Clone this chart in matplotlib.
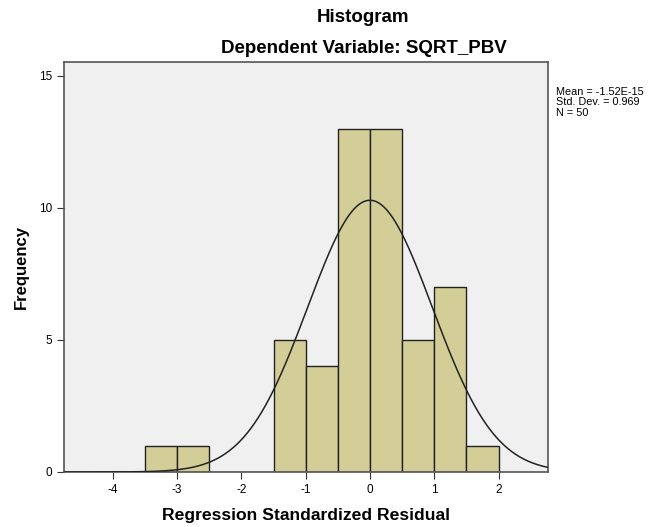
import numpy as np
import matplotlib.pyplot as plt

plt.rcParams["font.family"] = ["Liberation Sans", "DejaVu Sans"]
plt.rcParams["axes.unicode_minus"] = False

bin_edges = [-3.5, -3.0, -2.5, -2.0, -1.5, -1.0, -0.5, 0.0, 0.5, 1.0, 1.5, 2.0]
counts = [1, 1, 0, 0, 5, 4, 13, 13, 5, 7, 1]
mean = -1.52e-15
std = 0.969
n = 50
x_ticks = [-4, -3, -2, -1, 0, 1, 2]
y_ticks = [0, 5, 10, 15]

fig = plt.figure(figsize=(6.56, 5.27), dpi=100)
ax = fig.add_axes([0.0976, 0.1044, 0.7378, 0.778])
ax.set_facecolor("#f0f0f0")

lefts = np.array(bin_edges[:-1])
widths = np.diff(bin_edges)
ax.bar(lefts, counts, width=widths, align="edge", color="#d3ce98",
       edgecolor="#222222", linewidth=1.0, zorder=2)

xs = np.linspace(-4.76, 2.77, 400)
bw = widths[0]
ys = n * bw / (std * np.sqrt(2 * np.pi)) * np.exp(-0.5 * ((xs - mean) / std) ** 2)
ax.plot(xs, ys, color="#222222", linewidth=1.1, zorder=3)

ax.set_xlim(-4.76, 2.77)
ax.set_ylim(0, 15.53)
ax.set_xticks(x_ticks)
ax.set_yticks(y_ticks)
ax.tick_params(labelsize=8.5, length=5, color="#333333")
for s in ax.spines.values():
    s.set_color("#555555")
    s.set_linewidth(1.2)

ax.set_xlabel("Regression Standardized Residual", fontsize=12.6,
              fontweight="bold", labelpad=9)
ax.set_ylabel("Frequency", fontsize=12, fontweight="bold", labelpad=7)

fig.text(0.554, 0.967, "Histogram", ha="center", va="center",
         fontsize=13.5, fontweight="bold")
fig.text(0.554, 0.908, "Dependent Variable: SQRT_PBV", ha="center",
         va="center", fontsize=13.5, fontweight="bold")
fig.text(0.847, 0.835, "Mean = -1.52E-15\nStd. Dev. = 0.969\nN = 50",
         ha="left", va="top", fontsize=7.8, linespacing=1.05)

fig.savefig("out.png", dpi=100)
